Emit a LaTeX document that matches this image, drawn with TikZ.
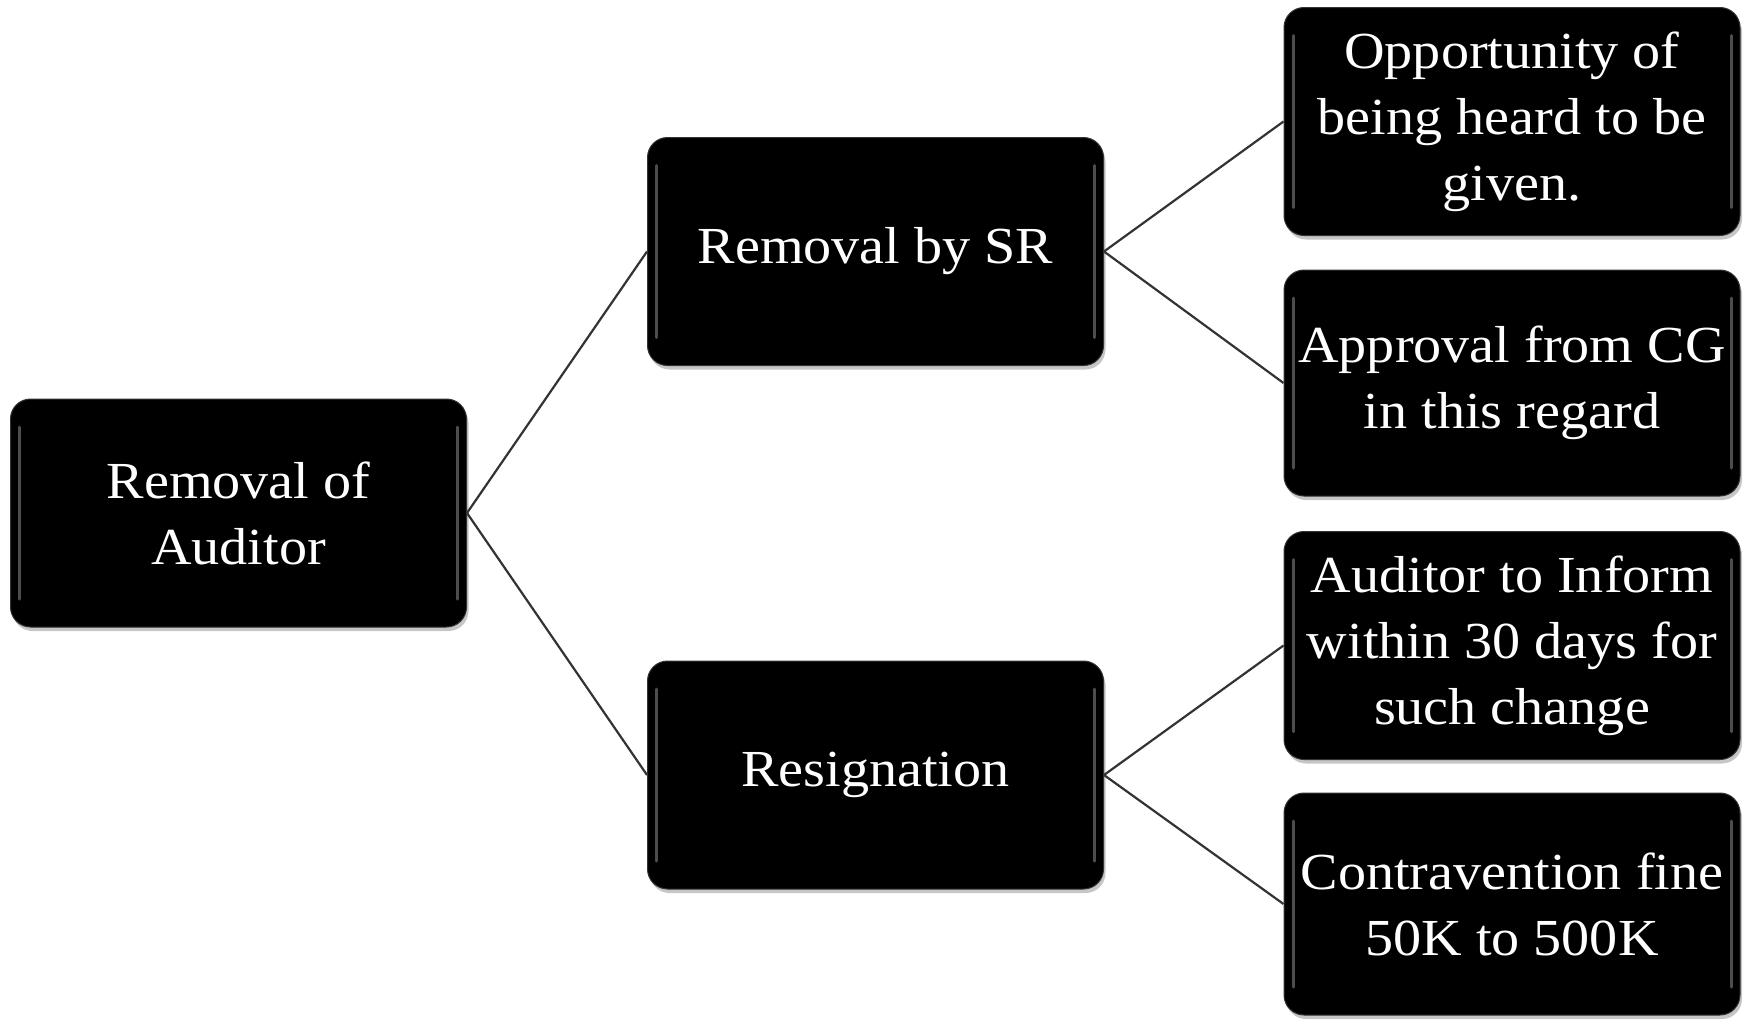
\documentclass[tikz,border=0pt]{standalone}
\usepackage{fontspec}
\setmainfont[FakeStretch=1.08]{Liberation Serif}
\usetikzlibrary{shadows}
\begin{document}
\begin{tikzpicture}[x=1pt,y=-1pt,
  box/.style={rectangle, rounded corners=20pt, fill=black, draw=black!80,
    line width=1pt, text=white, align=center, inner sep=0pt,
    minimum width=456pt, minimum height=228pt,
    font=\fontsize{52}{66}\selectfont,
    drop shadow={shadow xshift=2pt, shadow yshift=-4pt, opacity=0.45},
    path picture={
      \draw[white, opacity=0.3, line width=3pt, line cap=round]
        ([xshift=9pt,yshift=-28pt]path picture bounding box.north west) --
        ([xshift=9pt,yshift=28pt]path picture bounding box.south west);
      \draw[white, opacity=0.3, line width=3pt, line cap=round]
        ([xshift=-9pt,yshift=-28pt]path picture bounding box.north east) --
        ([xshift=-9pt,yshift=28pt]path picture bounding box.south east);
    }},
  link/.style={draw=black!80, line width=2.2pt}]
\useasboundingbox (0,0) rectangle (1748,1020);
\node[box] (root) at (238.5,513) {Removal of\\Auditor};
\node[box] (sr) at (875.5,251.5) {Removal by SR};
\node[box] (res) at (875.5,775) {Resignation};
\node[box] (l1) at (1512,121.5) {Opportunity of\\being heard to be\\given.};
\node[box, minimum height=226pt] (l2) at (1512,383) {Approval from CG\\in this regard};
\node[box] (l3) at (1512,645.5) {Auditor to Inform\\within 30 days for\\such change};
\node[box, minimum height=222pt] (l4) at (1512,904) {Contravention fine\\50K to 500K};
\draw[link] (root.east) -- (sr.west);
\draw[link] (root.east) -- (res.west);
\draw[link] (sr.east) -- (l1.west);
\draw[link] (sr.east) -- (l2.west);
\draw[link] (res.east) -- (l3.west);
\draw[link] (res.east) -- (l4.west);
\end{tikzpicture}
\end{document}
